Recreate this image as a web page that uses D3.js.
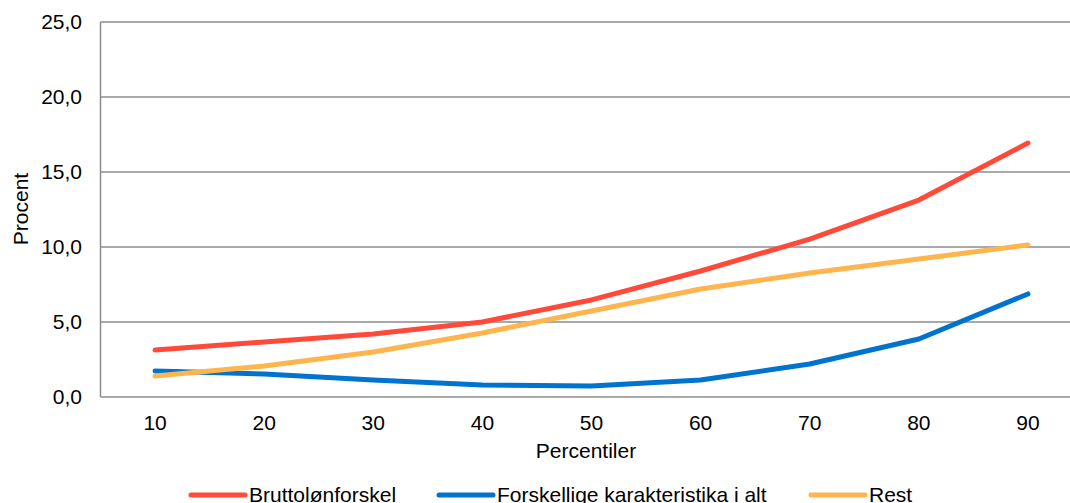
<!DOCTYPE html>
<html><head><meta charset="utf-8">
<script src="https://cdn.jsdelivr.net/npm/d3@7"></script>
<style>body{margin:0;background:#fff}svg{display:block;font-family:"Liberation Sans",Arial,sans-serif}</style>
</head><body>
<svg id="c" width="1070" height="503"></svg>
<script>
const categories = ["10","20","30","40","50","60","70","80","90"];
const brutto = [3.13,3.67,4.2,5.0,6.47,8.4,10.53,13.13,16.93];
const forskellige = [1.73,1.53,1.13,0.8,0.73,1.13,2.2,3.87,6.87];
const rest = [1.4,2.07,3.0,4.27,5.73,7.2,8.27,9.2,10.13];
const yTicks = [0,5,10,15,20,25];
const seriesNames = ["Bruttolønforskel","Forskellige karakteristika i alt","Rest"];
const colors = ["#FF4A3A","#0073CF","#FFB54D"];
const series = [brutto, forskellige, rest];

const svg = d3.select("#c");
const x = d3.scaleBand().domain(categories).range([100.5, 1082.5]);
const y = d3.scaleLinear().domain([0,25]).range([397, 22]);
const fs = 21;

svg.append("g").selectAll("line").data(yTicks).join("line")
  .attr("x1",100.5).attr("x2",1070).attr("y1",d=>y(d)).attr("y2",d=>y(d))
  .attr("stroke","#8c8c8c").attr("stroke-width",1.5);
svg.append("line").attr("x1",100.5).attr("x2",100.5).attr("y1",y(25)).attr("y2",y(0))
  .attr("stroke","#8c8c8c").attr("stroke-width",1.5);

const fmt = d => d3.format(".1f")(d).replace(".",",");
svg.append("g").selectAll("text").data(yTicks).join("text")
  .attr("x",82).attr("y",d=>y(d)+7).attr("text-anchor","end")
  .attr("font-size",fs).attr("fill","#000").text(fmt);

svg.append("g").selectAll("text").data(categories).join("text")
  .attr("x",d=>x(d)+x.bandwidth()/2).attr("y",430).attr("text-anchor","middle")
  .attr("font-size",fs).attr("fill","#000").text(d=>d);

svg.append("text").attr("x",586).attr("y",458).attr("text-anchor","middle")
  .attr("font-size",fs).text("Percentiler");
svg.append("text").attr("transform","translate(28,209) rotate(-90)").attr("text-anchor","middle")
  .attr("font-size",fs).text("Procent");

const line = d3.line().x((d,i)=>x(categories[i])+x.bandwidth()/2).y(d=>y(d));
series.forEach((s,k)=>{
  svg.append("path").attr("d",line(s)).attr("fill","none").attr("stroke",colors[k])
    .attr("stroke-width",5).attr("stroke-linecap","round").attr("stroke-linejoin","round");
});

const legX = [191, 439, 811];
seriesNames.forEach((n,k)=>{
  svg.append("line").attr("x1",legX[k]).attr("x2",legX[k]+54).attr("y1",495).attr("y2",495)
    .attr("stroke",colors[k]).attr("stroke-width",5).attr("stroke-linecap","round");
  svg.append("text").attr("x",legX[k]+58).attr("y",502).attr("font-size",fs).text(n);
});
</script>
</body></html>
